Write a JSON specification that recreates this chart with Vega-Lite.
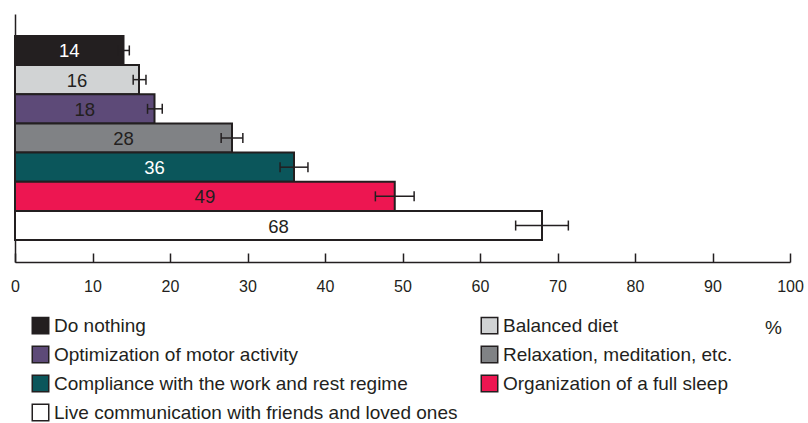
{
  "$schema": "https://vega.github.io/schema/vega-lite/v6.json",
  "width": 775,
  "height": 248,
  "autosize": {"type": "none"},
  "padding": {"left": 15, "top": 14, "right": 18, "bottom": 161},
  "background": "white",
  "config": {
    "view": {"stroke": null},
    "font": "Liberation Sans",
    "axis": {"grid": false}
  },
  "data": {
    "values": [
      {"cat": "Do nothing", "value": 14, "lo": 13.3, "hi": 14.75},
      {"cat": "Balanced diet", "value": 16, "lo": 15.25, "hi": 16.9},
      {"cat": "Optimization of motor activity", "value": 18, "lo": 17.1, "hi": 19.0},
      {"cat": "Relaxation, meditation, etc.", "value": 28, "lo": 26.6, "hi": 29.4},
      {"cat": "Compliance with the work and rest regime", "value": 36, "lo": 34.2, "hi": 37.8},
      {"cat": "Organization of a full sleep", "value": 49, "lo": 46.5, "hi": 51.5},
      {"cat": "Live communication with friends and loved ones", "value": 68, "lo": 64.6, "hi": 71.4}
    ]
  },
  "encoding": {
    "y": {
      "field": "cat",
      "type": "nominal",
      "sort": null,
      "scale": {"paddingInner": 0, "paddingOuter": 0.75},
      "axis": {"title": null, "labels": false, "ticks": false, "domainColor": "#231f20", "domainWidth": 1.5}
    }
  },
  "layer": [
    {
      "mark": {"type": "bar", "stroke": "#231f20", "strokeWidth": 2},
      "encoding": {
        "x": {
          "field": "value",
          "type": "quantitative",
          "scale": {"domain": [0, 100], "nice": false},
          "axis": {
            "values": [0, 10, 20, 30, 40, 50, 60, 70, 80, 90, 100],
            "tickSize": -9,
            "tickColor": "#231f20",
            "tickWidth": 1.5,
            "domainColor": "#231f20",
            "domainWidth": 1.5,
            "labelFontSize": 16,
            "labelColor": "#231f20",
            "labelPadding": 25.5,
            "labelFlush": false,
            "title": "%",
            "titleFontSize": 19,
            "titleFontWeight": "normal",
            "titleColor": "#231f20",
            "titleX": 758,
            "titleY": 65,
            "titleAlign": "center",
            "titleBaseline": "middle"
          }
        },
        "fill": {
          "field": "cat",
          "type": "nominal",
          "scale": {
            "domain": [
              "Do nothing",
              "Optimization of motor activity",
              "Compliance with the work and rest regime",
              "Live communication with friends and loved ones",
              "Balanced diet",
              "Relaxation, meditation, etc.",
              "Organization of a full sleep"
            ],
            "range": ["#231f20", "#5d4a78", "#0b565b", "#ffffff", "#d1d3d4", "#808285", "#ed1651"]
          },
          "legend": {
            "title": null,
            "orient": "none",
            "legendX": 16,
            "legendY": 302,
            "columns": 2,
            "columnPadding": 20,
            "rowPadding": 6,
            "padding": 0,
            "symbolType": "square",
            "symbolSize": 272,
            "symbolStrokeColor": "#231f20",
            "symbolStrokeWidth": 1.5,
            "symbolOpacity": 1,
            "labelFontSize": 19,
            "labelColor": "#231f20",
            "labelOffset": 4,
            "labelLimit": 0
          }
        }
      }
    },
    {
      "mark": {"type": "rule", "stroke": "#231f20", "strokeWidth": 1.5},
      "encoding": {
        "x": {"field": "lo", "type": "quantitative"},
        "x2": {"field": "hi"}
      }
    },
    {
      "mark": {"type": "tick", "color": "#231f20", "size": 10, "thickness": 1.5, "opacity": 1},
      "encoding": {"x": {"field": "lo", "type": "quantitative"}}
    },
    {
      "mark": {"type": "tick", "color": "#231f20", "size": 10, "thickness": 1.5, "opacity": 1},
      "encoding": {"x": {"field": "hi", "type": "quantitative"}}
    },
    {
      "transform": [{"calculate": "datum.value / 2", "as": "mid"}],
      "mark": {"type": "text", "fontSize": 18.5, "align": "center", "baseline": "middle", "dy": 1},
      "encoding": {
        "x": {"field": "mid", "type": "quantitative"},
        "text": {"field": "value", "type": "quantitative"},
        "color": {
          "condition": {"test": "datum.value == 14 || datum.value == 36", "value": "#ffffff"},
          "value": "#231f20"
        }
      }
    }
  ]
}
